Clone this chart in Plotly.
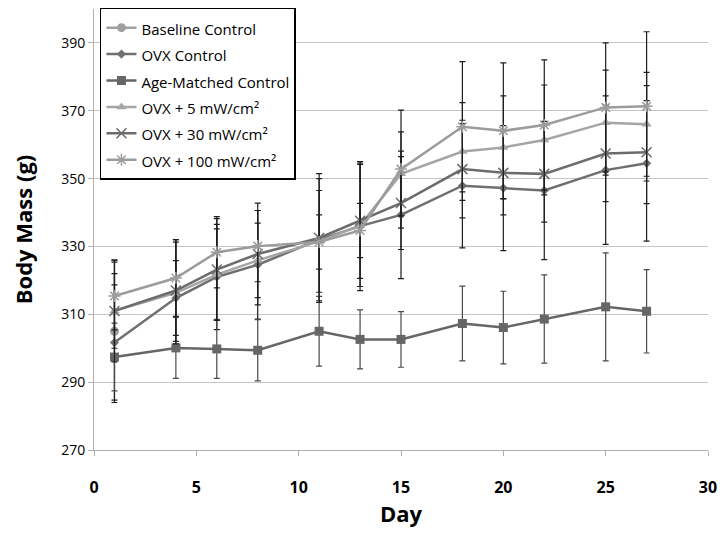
import plotly.graph_objects as go

days = [1, 4, 6, 8, 11, 13, 15, 18, 20, 22, 25, 27]

baseline_days = [1]
baseline = [305.0]
baseline_err = [21.0]

ovx_ctrl = [301.7, 314.8, 321.0, 324.6, 332.0, 336.0, 339.3, 347.9, 347.2, 346.5, 352.5, 354.5]
ovx_ctrl_err = [17.0, 11.0, 15.5, 16.0, 18.0, 19.0, 18.8, 18.3, 18.4, 20.4, 21.9, 22.9]

age = [297.4, 300.1, 299.8, 299.4, 305.0, 302.6, 302.6, 307.3, 306.1, 308.6, 312.2, 310.9]
age_err = [10.0, 9.0, 8.7, 9.0, 10.3, 8.7, 8.2, 11.0, 10.7, 13.0, 15.9, 12.3]

ovx5 = [311.0, 316.3, 321.7, 325.9, 331.5, 336.2, 351.4, 358.0, 359.2, 361.4, 366.5, 366.0]
ovx5_err = [11.0, 15.0, 13.5, 11.0, 15.0, 18.0, 12.4, 14.4, 15.2, 16.2, 15.5, 15.3]

ovx30 = [311.0, 317.0, 323.2, 327.8, 332.5, 337.6, 342.8, 352.8, 351.7, 351.4, 357.4, 357.8]
ovx30_err = [15.0, 15.0, 15.0, 15.0, 19.0, 17.0, 13.7, 14.4, 12.4, 14.2, 14.2, 15.2]

ovx100 = [315.4, 320.7, 328.3, 330.1, 331.3, 334.7, 352.8, 365.3, 364.1, 365.8, 371.0, 371.3]
ovx100_err = [10.0, 11.3, 10.5, 10.5, 8.0, 8.0, 17.4, 19.2, 20.0, 19.2, 19.0, 22.0]

y_ticks = [270, 290, 310, 330, 350, 370, 390]
x_ticks = [0, 5, 10, 15, 20, 25, 30]

series = [
    ("Baseline Control", baseline_days, baseline, baseline_err, "#a0a0a0", "circle", 9, "#1e1e1e"),
    ("OVX Control", days, ovx_ctrl, ovx_ctrl_err, "#6f6f6f", "diamond", 7, "#1e1e1e"),
    ("Age-Matched Control", days, age, age_err, "#666666", "square", 9, "#4a4a4a"),
    ("OVX + 5 mW/cm²", days, ovx5, ovx5_err, "#a5a5a5", "triangle-up", 9, "#1e1e1e"),
    ("OVX + 30 mW/cm²", days, ovx30, ovx30_err, "#6c6c6c", "x-thin-open", 10, "#1e1e1e"),
    ("OVX + 100 mW/cm²", days, ovx100, ovx100_err, "#9c9c9c", "asterisk-open", 10, "#1e1e1e"),
]

fig = go.Figure()
for name, xs, ys, es, col, sym, size, ecol in series:
    open_sym = sym.endswith("open")
    fig.add_trace(go.Scatter(
        x=xs, y=ys, name=f'<span style="font-size:15px">{name}</span>',
        mode="lines+markers",
        line=dict(color=col, width=2.5),
        marker=dict(symbol=sym, size=size, color=col,
                    line=dict(color=col, width=1.5 if open_sym else 0)),
        error_y=dict(type="data", array=es, visible=True, color=ecol,
                     thickness=1.2, width=3),
    ))

fig.update_layout(
    width=725, height=536,
    margin=dict(l=94, r=13, t=8, b=86),
    paper_bgcolor="white", plot_bgcolor="white",
    font=dict(family="Open Sans", color="#000000"),
    showlegend=True,
    legend=dict(x=0.0097, y=1.0023, xanchor="left", yanchor="top",
                bgcolor="white", bordercolor="#000000", borderwidth=1.5,
                font=dict(size=18, family="Open Sans", color="#000"),
                itemwidth=30, tracegroupgap=0),
    xaxis=dict(range=[0, 30], tickvals=x_ticks, ticktext=[f"<b>{v}</b>" for v in x_ticks],
               showgrid=False, zeroline=False, showline=True, linecolor="#b0b0b0", linewidth=1,
               ticks="outside", ticklen=5, tickcolor="#b0b0b0", ticklabelstandoff=18,
               tickfont=dict(size=16, family="Open Sans"),
               title=dict(text="<b>Day</b>", font=dict(size=22, family="Open Sans"), standoff=6)),
    yaxis=dict(range=[270, 400], tickvals=y_ticks,
               showgrid=True, gridcolor="#c4c4c4", gridwidth=1.2, zeroline=False,
               showline=True, linecolor="#b0b0b0", linewidth=1,
               ticks="outside", ticklen=5, tickcolor="#b0b0b0",
               tickfont=dict(size=14, family="Open Sans"),
               title=dict(text="<b>Body Mass (g)</b>", font=dict(size=22, family="Open Sans"), standoff=22)),
)

fig.write_html("out.html", config={"displayModeBar": False},
               post_script="document.body.style.margin='0';")
